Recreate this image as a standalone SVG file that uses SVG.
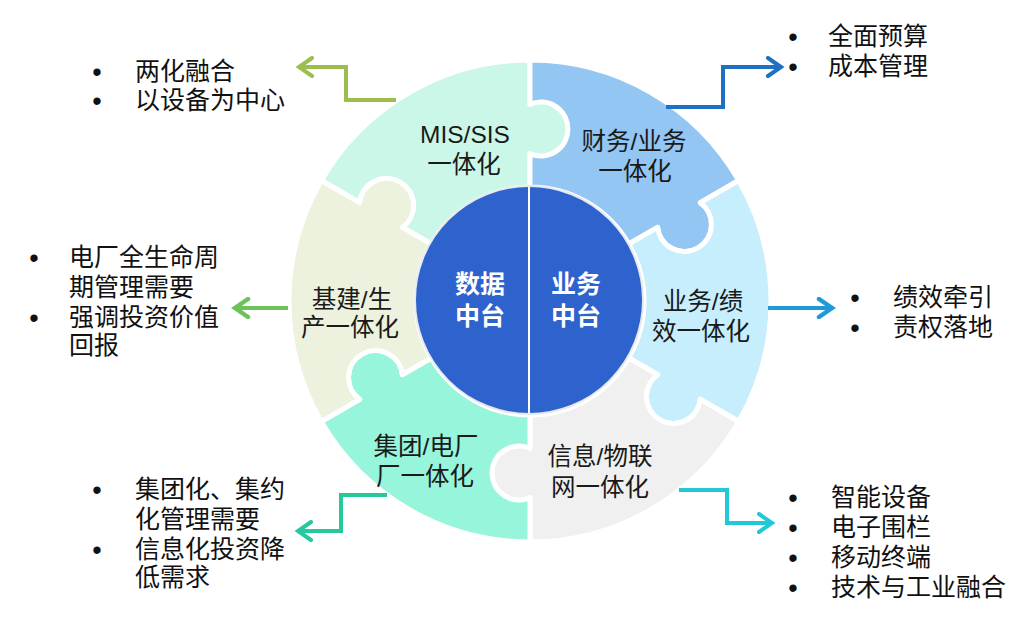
<svg xmlns="http://www.w3.org/2000/svg" width="1029" height="633" viewBox="0 0 1029 633">
<style>
.seg{stroke:#fff;stroke-width:5;stroke-linejoin:round}
.lbl{font-family:'Liberation Sans','Noto Sans CJK SC',sans-serif;font-size:24.5px;fill:#1a1a1a;text-anchor:middle}
.core{font-family:'Liberation Sans','Noto Sans CJK SC',sans-serif;font-size:25px;font-weight:bold;fill:#fff;text-anchor:middle}
.txt{font-family:'Liberation Sans','Noto Sans CJK SC',sans-serif;font-size:25px;fill:#111}
.bul{font-family:'Liberation Sans','Noto Sans CJK SC',sans-serif;font-size:27px;fill:#111;text-anchor:middle}
.arr{fill:none;stroke-width:4;stroke-linejoin:miter}
</style>
<defs>
<marker id="mA" viewBox="-16 -11 20 22" markerWidth="20" markerHeight="22" refX="0" refY="0" orient="auto" markerUnits="userSpaceOnUse"><path d="M-13 -9 L0 0 L-13 9" fill="none" stroke="#9BBE4E" stroke-width="4" stroke-linecap="round"/></marker>
<marker id="mB" viewBox="-16 -11 20 22" markerWidth="20" markerHeight="22" refX="0" refY="0" orient="auto" markerUnits="userSpaceOnUse"><path d="M-13 -9 L0 0 L-13 9" fill="none" stroke="#1F6FC2" stroke-width="4" stroke-linecap="round"/></marker>
<marker id="mC" viewBox="-16 -11 20 22" markerWidth="20" markerHeight="22" refX="0" refY="0" orient="auto" markerUnits="userSpaceOnUse"><path d="M-13 -9 L0 0 L-13 9" fill="none" stroke="#6CC35A" stroke-width="4.5" stroke-linecap="round"/></marker>
<marker id="mD" viewBox="-16 -11 20 22" markerWidth="20" markerHeight="22" refX="0" refY="0" orient="auto" markerUnits="userSpaceOnUse"><path d="M-13 -9 L0 0 L-13 9" fill="none" stroke="#1E9BD7" stroke-width="4.5" stroke-linecap="round"/></marker>
<marker id="mE" viewBox="-16 -11 20 22" markerWidth="20" markerHeight="22" refX="0" refY="0" orient="auto" markerUnits="userSpaceOnUse"><path d="M-13 -9 L0 0 L-13 9" fill="none" stroke="#25C99B" stroke-width="4" stroke-linecap="round"/></marker>
<marker id="mF" viewBox="-16 -11 20 22" markerWidth="20" markerHeight="22" refX="0" refY="0" orient="auto" markerUnits="userSpaceOnUse"><path d="M-13 -9 L0 0 L-13 9" fill="none" stroke="#20C8D8" stroke-width="4" stroke-linecap="round"/></marker>
</defs>
<rect width="1029" height="633" fill="#fff"/>

<g id="seg-mis">
<path class="seg" fill="#CBF7E9" d="M321.29 180.5 A241 241 0 0 1 530 60 L530 104.34 A27 27 0 1 1 530 153.66 L530 187 A114 114 0 0 0 431.27 244 L402.40 227.33 A27 27 0 1 0 359.69 202.67 Z"/>
<text class="lbl" x="465" y="143">MIS/SIS</text>
<text class="lbl" x="464" y="173">一体化</text>
</g>
<g id="seg-fin">
<path class="seg" fill="#93C6F3" d="M530 60 A241 241 0 0 1 738.71 180.5 L700.31 202.67 A27 27 0 1 1 657.60 227.33 L628.73 244 A114 114 0 0 0 530 187 L530 153.66 A27 27 0 1 0 530 104.34 Z"/>
<text class="lbl" x="634" y="150">财务/业务</text>
<text class="lbl" x="635" y="180">一体化</text>
</g>
<g id="seg-perf">
<path class="seg" fill="#C6EEFC" d="M738.71 180.5 A241 241 0 0 1 738.71 421.5 L700.31 399.33 A27 27 0 1 1 657.60 374.67 L628.73 358 A114 114 0 0 0 628.73 244 L657.60 227.33 A27 27 0 1 0 700.31 202.67 Z"/>
<text class="lbl" x="703" y="310">业务/绩</text>
<text class="lbl" x="701" y="340">效一体化</text>
</g>
<g id="seg-iot">
<path class="seg" fill="#F0F0F0" d="M738.71 421.5 A241 241 0 0 1 530 542 L530 497.66 A27 27 0 1 1 530 448.34 L530 415 A114 114 0 0 0 628.73 358 L657.60 374.67 A27 27 0 1 0 700.31 399.33 Z"/>
<text class="lbl" x="600" y="465">信息/物联</text>
<text class="lbl" x="600" y="496">网一体化</text>
</g>
<g id="seg-group">
<path class="seg" fill="#97F5DB" d="M530 542 A241 241 0 0 1 321.29 421.5 L359.69 399.33 A27 27 0 1 1 402.40 374.67 L431.27 358 A114 114 0 0 0 530 415 L530 448.34 A27 27 0 1 0 530 497.66 Z"/>
<text class="lbl" x="426" y="455">集团/电厂</text>
<text class="lbl" x="425" y="485">厂一体化</text>
</g>
<g id="seg-build">
<path class="seg" fill="#ECF2DD" d="M321.29 421.5 A241 241 0 0 1 321.29 180.5 L359.69 202.67 A27 27 0 1 1 402.40 227.33 L431.27 244 A114 114 0 0 0 431.27 358 L402.40 374.67 A27 27 0 1 0 359.69 399.33 Z"/>
<text class="lbl" x="352" y="308">基建/生</text>
<text class="lbl" x="350" y="336">产一体化</text>
</g>

<g id="core">
<circle cx="529" cy="300" r="114" fill="#2E62CD" stroke="#E6E9EE" stroke-width="2"/>
<line x1="529" y1="187" x2="529" y2="413" stroke="#fff" stroke-width="2"/>
<text class="core" x="480" y="293">数据</text>
<text class="core" x="480" y="325">中台</text>
<text class="core" x="576" y="293">业务</text>
<text class="core" x="576" y="325">中台</text>
</g>

<g id="connectors">
<path class="arr" stroke="#9BBE4E" d="M396 100 H346 V67 H299" marker-end="url(#mA)"/>
<path class="arr" stroke="#1F6FC2" d="M666 107 H723 V67 H781" marker-end="url(#mB)"/>
<path class="arr" stroke="#6CC35A" stroke-width="4.5" d="M288 308 H235" marker-end="url(#mC)"/>
<path class="arr" stroke="#1E9BD7" stroke-width="4.5" d="M768 308 H832" marker-end="url(#mD)"/>
<path class="arr" stroke="#25C99B" d="M387 495 H341 V531 H298" marker-end="url(#mE)"/>
<path class="arr" stroke="#20C8D8" d="M679 490 H727 V523 H772" marker-end="url(#mF)"/>
</g>

<g id="note-topleft">
<text class="bul" x="97" y="81">•</text><text class="txt" x="135" y="80">两化融合</text>
<text class="bul" x="97" y="110">•</text><text class="txt" x="135" y="109">以设备为中心</text>
</g>
<g id="note-topright">
<text class="bul" x="793" y="46">•</text><text class="txt" x="828" y="45">全面预算</text>
<text class="bul" x="793" y="76">•</text><text class="txt" x="828" y="75">成本管理</text>
</g>
<g id="note-left">
<text class="bul" x="34" y="267">•</text><text class="txt" x="69" y="266">电厂全生命周</text>
<text class="txt" x="69" y="296">期管理需要</text>
<text class="bul" x="34" y="327">•</text><text class="txt" x="69" y="326">强调投资价值</text>
<text class="txt" x="69" y="354">回报</text>
</g>
<g id="note-right">
<text class="bul" x="855" y="307">•</text><text class="txt" x="893" y="306">绩效牵引</text>
<text class="bul" x="855" y="337">•</text><text class="txt" x="893" y="336">责权落地</text>
</g>
<g id="note-bottomleft">
<text class="bul" x="97" y="499">•</text><text class="txt" x="135" y="498">集团化、集约</text>
<text class="txt" x="135" y="528">化管理需要</text>
<text class="bul" x="97" y="559">•</text><text class="txt" x="135" y="558">信息化投资降</text>
<text class="txt" x="135" y="586">低需求</text>
</g>
<g id="note-bottomright">
<text class="bul" x="793" y="507">•</text><text class="txt" x="831" y="506">智能设备</text>
<text class="bul" x="793" y="537">•</text><text class="txt" x="831" y="536">电子围栏</text>
<text class="bul" x="793" y="567">•</text><text class="txt" x="831" y="566">移动终端</text>
<text class="bul" x="793" y="597">•</text><text class="txt" x="831" y="596">技术与工业融合</text>
</g>
</svg>
